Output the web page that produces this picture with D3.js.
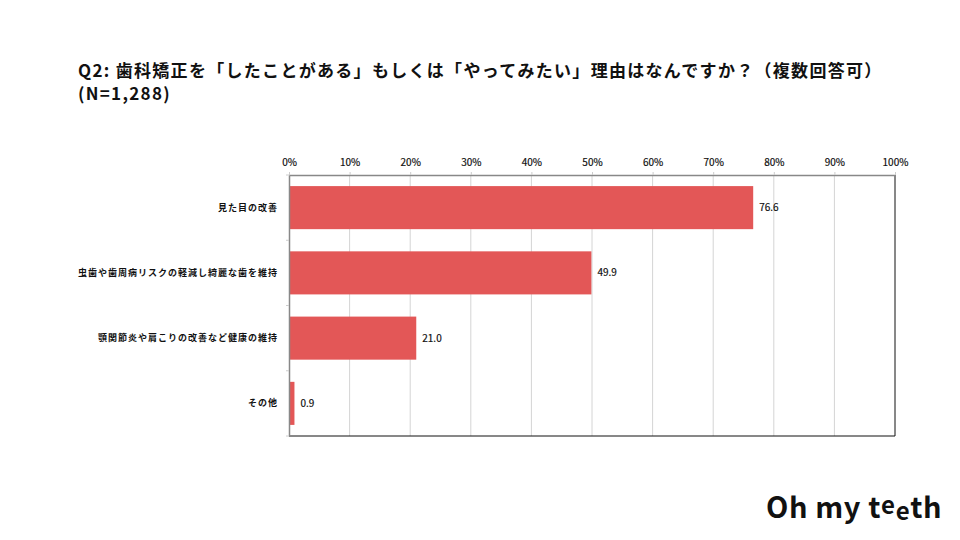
<!DOCTYPE html>
<meta charset="utf-8" />
<script src="https://d3js.org/d3.v7.js"></script>
<style>
  body { margin: 0; background: #fff; }
  text { font-family: "Noto Sans CJK JP", "Liberation Sans", sans-serif; }
</style>
<div id="chart"></div>
<script>
  // data
  const categories = [
    "見た目の改善",
    "虫歯や歯周病リスクの軽減し綺麗な歯を維持",
    "顎関節炎や肩こりの改善など健康の維持",
    "その他"
  ];
  const values = [76.6, 49.9, 21.0, 0.9];
  const xTicks = [0, 10, 20, 30, 40, 50, 60, 70, 80, 90, 100];

  const titleLines = [
    "Q2: 歯科矯正を「したことがある」もしくは「やってみたい」理由はなんですか？（複数回答可）",
    "(N=1,288)"
  ];

  const W = 960, H = 540;
  const margin = { top: 175, right: 65, bottom: 104, left: 289 };
  const width = W - margin.left - margin.right,
    height = H - margin.top - margin.bottom;

  const root = d3.select("#chart").append("svg")
    .attr("width", W).attr("height", H);

  // title
  root.append("g").selectAll("text")
    .data(titleLines)
    .join("text")
    .attr("x", 78)
    .attr("y", (d, i) => 77 + i * 23)
    .attr("font-size", 17)
    .attr("font-weight", "bold")
    .attr("letter-spacing", 1.3)
    .attr("fill", "#111")
    .text(d => d);

  const svg = root.append("g")
    .attr("transform", `translate(${margin.left}, ${margin.top})`);

  const x = d3.scaleLinear().domain([0, 100]).range([0, width]);
  const y = d3.scaleBand().domain(categories).range([0, height]).paddingInner(0.34).paddingOuter(0.17);

  // gridlines
  svg.append("g").selectAll("line")
    .data(xTicks.slice(1, -1))
    .join("line")
    .attr("x1", d => x(d)).attr("x2", d => x(d))
    .attr("y1", 0).attr("y2", height)
    .attr("stroke", "#d4d4d4");

  // bars
  svg.append("g").selectAll("rect")
    .data(values)
    .join("rect")
    .attr("x", x(0))
    .attr("y", (d, i) => y(categories[i]))
    .attr("width", d => x(d) - x(0))
    .attr("height", y.bandwidth())
    .attr("fill", "#e35757");

  // value labels
  svg.append("g").selectAll("text")
    .data(values)
    .join("text")
    .attr("x", d => x(d) + 6)
    .attr("y", (d, i) => y(categories[i]) + y.bandwidth() / 2)
    .attr("dy", "0.35em")
    .attr("font-size", 10)
    .attr("font-family", "Liberation Sans, sans-serif")
    .attr("stroke", "#111").attr("stroke-width", 0.2)
    .attr("fill", "#111")
    .text(d => d.toFixed(1));

  // frame: right and bottom black
  svg.append("line").attr("x1", width).attr("x2", width).attr("y1", 0).attr("y2", height)
    .attr("stroke", "#111");
  svg.append("line").attr("x1", 0).attr("x2", width).attr("y1", height).attr("y2", height)
    .attr("stroke", "#111");

  // top axis
  const xAxis = svg.append("g")
    .call(d3.axisTop(x).tickValues(xTicks).tickFormat(d => d + "%").tickSize(3).tickSizeOuter(0));
  xAxis.select(".domain").attr("stroke", "#888").attr("stroke-width", 1.5);
  xAxis.selectAll(".tick line").attr("stroke", "#ccc");
  xAxis.selectAll("text")
    .attr("font-size", 10)
    .attr("font-family", "Liberation Sans, sans-serif")
    .attr("stroke", "#111").attr("stroke-width", 0.2)
    .attr("fill", "#111")
    .attr("y", -9);

  // left axis, ticks on band boundaries
  const yAxis = svg.append("g")
    .call(d3.axisLeft(y).tickSize(0).tickPadding(11));
  yAxis.select(".domain").attr("stroke", "#888").attr("stroke-width", 1.5);
  yAxis.selectAll("text")
    .attr("font-size", 9)
    .attr("font-weight", "bold")
    .attr("letter-spacing", 1)
    .attr("fill", "#111");
  svg.append("g").selectAll("line")
    .data(d3.range(0, categories.length + 1))
    .join("line")
    .attr("x1", -3).attr("x2", 0)
    .attr("y1", i => i * height / categories.length)
    .attr("y2", i => i * height / categories.length)
    .attr("stroke", "#ccc");

  // logo
  const logo = root.append("text")
    .attr("x", 766).attr("y", 518)
    .attr("font-size", 29)
    .attr("font-weight", "bold")
    .attr("letter-spacing", 0.6)
    .attr("font-family", "Lato, sans-serif")
    .attr("fill", "#111");
  logo.append("tspan").text("Oh my t");
  logo.append("tspan").attr("dy", -4).attr("font-size", 24).text("e");
  logo.append("tspan").attr("dy", 6).attr("font-size", 24).text("e");
  logo.append("tspan").attr("dy", -2).text("th");
</script>
